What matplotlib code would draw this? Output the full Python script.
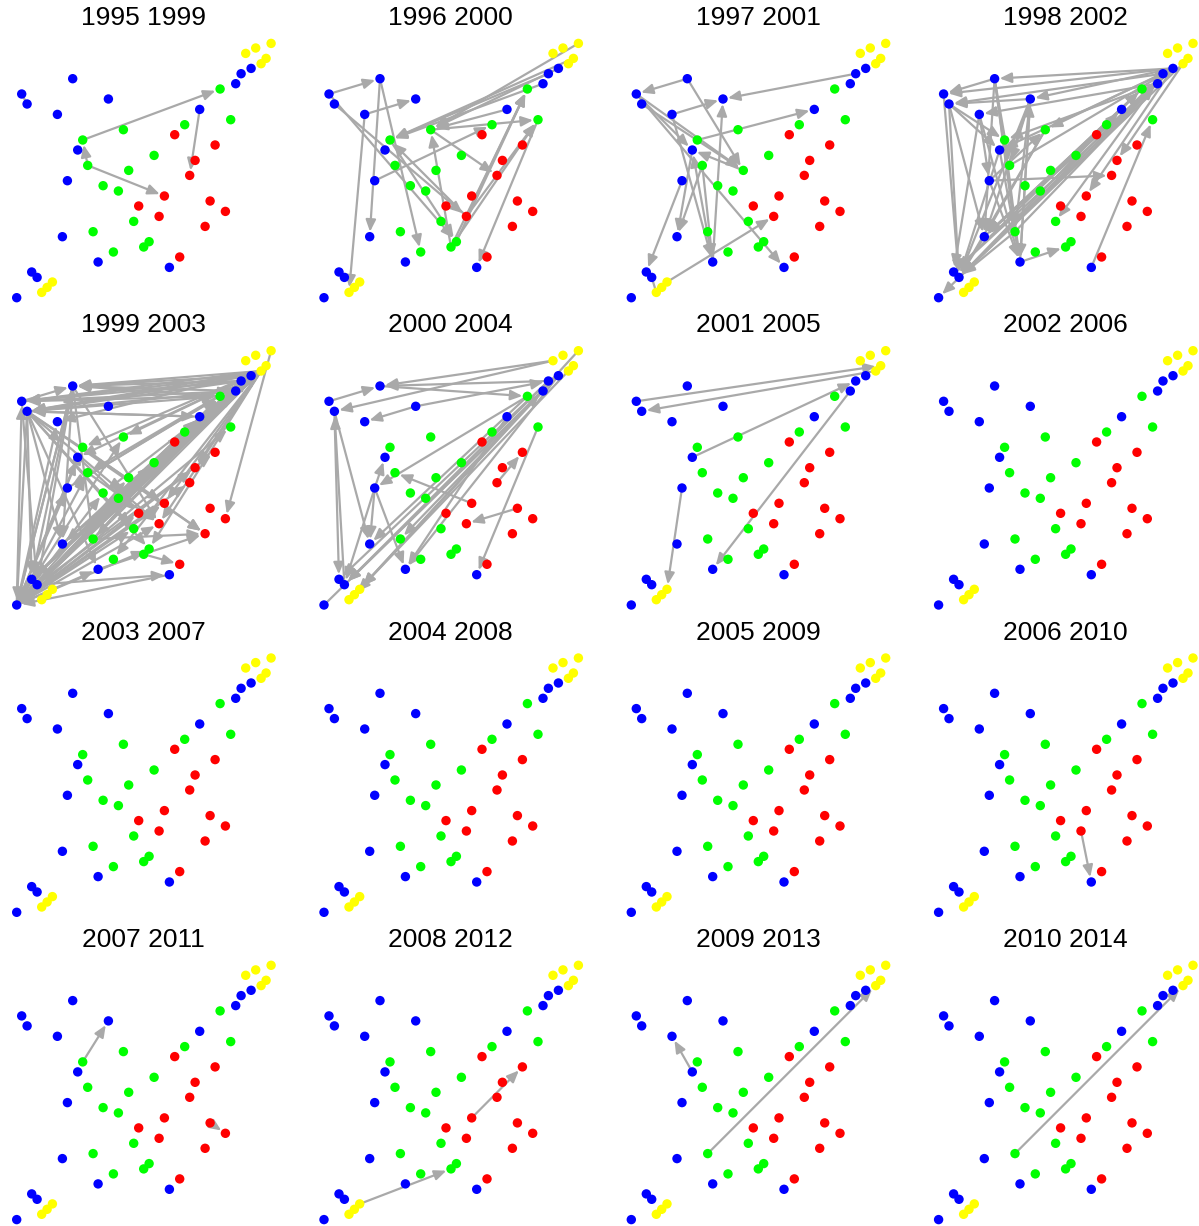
import matplotlib.pyplot as plt

# node layout, in pixels inside one panel (y grows downwards)
node_names = ["Y1", "Y2", "Y3", "Y4", "Y5", "Y6", "Y7", "Y8",
              "B1", "B2", "B3", "B4", "B5", "B6", "B7", "B8", "B9", "B10",
              "B11", "B12", "B13", "B14", "B15", "B16", "B17",
              "G1", "G2", "G3", "G4", "G5", "G6", "G7", "G8", "G9", "G10",
              "G11", "G12", "G13", "G14", "G15",
              "R1", "R2", "R3", "R4", "R5", "R6", "R7", "R8", "R9", "R10", "R11"]
node_x = [271.1, 255.7, 245.7, 266.1, 261.1, 52.4, 47.1, 41.7,
          251.1, 241.1, 235.7, 199.7, 72.7, 21.7, 27.1, 57.4, 108.4, 77.7,
          67.4, 62.4, 98.1, 169.4, 31.7, 37.1, 16.7,
          220.1, 230.7, 184.7, 123.4, 82.7, 154.1, 87.7, 128.7, 103.1, 118.4,
          133.7, 93.1, 149.1, 143.7, 113.4,
          174.7, 215.1, 195.1, 189.7, 164.4, 138.7, 210.1, 225.4, 159.1, 205.1, 179.7]
node_y = [43.4, 48.0, 53.4, 58.4, 63.7, 282.0, 287.4, 292.4,
          68.4, 73.7, 83.7, 109.4, 78.7, 94.0, 104.0, 114.4, 99.0, 150.0,
          180.7, 236.7, 262.0, 267.4, 272.0, 277.4, 297.7,
          89.0, 119.7, 124.7, 129.7, 140.0, 155.4, 165.4, 170.4, 185.7, 191.0,
          221.4, 231.7, 241.7, 247.0, 252.0,
          134.7, 145.0, 160.4, 175.4, 196.0, 206.0, 201.0, 211.4, 216.4, 226.4, 257.0]
group_colors = {"Y": "#FFFF00", "B": "#0000FF", "G": "#00FF00", "R": "#FF0000"}

titles = ["1995 1999", "1996 2000", "1997 2001", "1998 2002",
          "1999 2003", "2000 2004", "2001 2005", "2002 2006",
          "2003 2007", "2004 2008", "2005 2009", "2006 2010",
          "2007 2011", "2008 2012", "2009 2013", "2010 2014"]

edges_1995 = [("G5", "G1"), ("G7", "G5"), ("G7", "R5"), ("B4", "R4"), ("B6", "B7")]
edges_1996 = [("B6", "B5"), ("B5", "B12"), ("B5", "G15"), ("B8", "B9"), ("B8", "Y8"),
              ("B7", "R9"), ("B6", "G13"), ("R9", "G5"), ("G5", "G13"), ("G4", "R4"),
              ("G14", "G4"), ("B11", "G3"), ("G4", "G2"), ("Y1", "G4"), ("Y4", "G5"),
              ("B1", "G4"), ("B2", "G5"), ("B3", "G5"), ("B4", "G4"), ("G13", "G1"),
              ("R9", "G1"), ("G14", "G2"), ("R9", "G2"), ("G14", "G1"), ("G2", "B14")]
edges_1997 = [("B5", "B6"), ("B5", "G8"), ("B2", "B9"), ("B8", "B9"), ("G5", "B4"),
              ("B6", "B10"), ("B7", "G8"), ("B6", "G8"), ("B6", "B14"), ("B13", "B9"),
              ("B10", "B12"), ("G7", "B12"), ("B11", "B15"), ("B16", "Y8"), ("Y6", "R9"),
              ("B8", "B13"), ("G7", "B13"), ("G8", "B10"), ("B13", "B10")]
edges_1998 = [("B1", "B5"), ("B5", "B6"), ("B1", "B6"), ("B2", "B7"), ("B1", "B9"),
              ("B9", "B7"), ("B3", "B8"), ("B1", "B17"), ("Y5", "B16"), ("B2", "B16"),
              ("B3", "B15"), ("G1", "B12"), ("B4", "B12"), ("B1", "B12"), ("B7", "B10"),
              ("B7", "G5"), ("B7", "B12"), ("B7", "B16"), ("B6", "B16"), ("B5", "B12"),
              ("B5", "B13"), ("B5", "G12"), ("B5", "G7"), ("B9", "B12"), ("B9", "B13"),
              ("B9", "G12"), ("B9", "G7"), ("B9", "B16"), ("B8", "B13"), ("B8", "B15"),
              ("B8", "B11"), ("B10", "B13"), ("B10", "B16"), ("B11", "B13"), ("G5", "B13"),
              ("G4", "B16"), ("G4", "B12"), ("B13", "G14"), ("B14", "G2"), ("B11", "R4"),
              ("Y5", "R3"), ("B2", "G11"), ("B1", "R5"), ("B15", "G1"), ("B16", "B3"),
              ("B12", "G1"), ("B16", "B4"), ("G12", "B3"), ("G7", "B1"), ("B11", "G4"),
              ("B13", "B9"), ("G12", "B16"), ("B12", "B16"), ("B1", "G4"), ("B3", "G5"),
              ("B2", "B10")]
edges_1999 = [("Y5", "B5"), ("Y5", "B6"), ("Y5", "B7"), ("Y5", "B8"), ("Y5", "G5"),
              ("Y5", "G7"), ("Y5", "G4"), ("Y5", "B10"), ("Y5", "B11"), ("Y5", "B12"),
              ("Y5", "B15"), ("Y5", "B16"), ("Y5", "B17"), ("Y5", "G12"), ("Y5", "G15"),
              ("Y5", "G13"), ("Y5", "R9"), ("Y5", "R5"), ("Y5", "R3"), ("Y5", "G9"),
              ("Y5", "G10"), ("B1", "B5"), ("B1", "B6"), ("B2", "B7"), ("B3", "B17"),
              ("B1", "B16"), ("Y1", "R8"),
              ("B2", "B5"), ("B3", "B5"), ("G1", "B5"), ("B1", "B7"), ("B3", "B7"),
              ("G1", "B6"), ("B4", "B7"), ("B2", "B6"), ("B7", "G1"), ("B7", "B4"),
              ("B6", "B3"), ("B17", "B1"), ("B17", "Y5"), ("B16", "Y5"), ("B15", "B1"),
              ("B17", "B5"), ("B17", "B6"), ("B17", "B8"), ("B17", "B10"), ("B17", "B11"),
              ("B17", "G4"), ("B17", "G5"), ("B17", "G7"), ("B17", "G8"), ("B17", "G9"),
              ("B17", "G10"), ("B17", "B13"), ("B17", "R9"), ("B17", "R5"), ("B17", "R6"),
              ("B17", "G11"), ("B17", "G13"), ("B17", "G1"), ("B17", "B4"), ("B17", "B3"),
              ("B17", "B2"), ("B17", "G3"), ("B17", "G6"), ("B14", "B17"),
              ("B17", "R3"), ("B17", "R4"), ("B17", "G2"), ("B16", "R2"), ("B15", "B4"),
              ("B12", "B3"), ("G12", "G1"), ("B16", "G6"), ("B15", "G3"),
              ("B7", "R10"), ("B7", "R5"), ("B7", "G13"), ("B7", "B17"), ("B7", "B15"),
              ("B7", "B13"), ("B7", "G11"), ("B7", "R9"), ("B7", "B12"), ("B6", "B16"),
              ("B5", "B17"), ("B5", "B15"), ("B5", "R9"), ("B5", "B12"), ("B5", "G12"),
              ("B5", "B16"), ("G14", "R11"), ("B13", "R10"), ("G12", "R10"), ("B16", "B14"),
              ("G5", "R10"), ("B6", "B5"), ("B16", "G1"), ("B15", "B3"), ("G12", "B1"),
              ("B12", "B2"), ("B11", "G1"), ("B10", "R6"), ("G7", "R9")]
edges_2000 = [("B6", "B5"), ("Y3", "B5"), ("B2", "B5"), ("B5", "G1"), ("Y3", "B7"),
              ("B9", "B8"), ("B9", "B2"), ("B16", "B7"), ("B7", "B12"), ("B7", "B15"),
              ("B11", "B10"), ("B11", "B12"), ("B11", "B13"), ("B11", "B16"), ("G1", "B11"),
              ("R5", "G7"), ("R7", "R9"), ("R4", "R2"), ("G2", "B14"), ("Y1", "Y6"),
              ("B1", "B16"), ("B2", "B15"), ("B3", "G12"), ("G1", "B12"), ("B1", "B13"),
              ("Y5", "Y7"), ("B17", "B3"), ("B4", "B13"), ("B3", "Y6"), ("B2", "B16")]
edges_2001 = [("B6", "Y4"), ("Y5", "B7"), ("B10", "B2"), ("B3", "B13"), ("B11", "Y6")]
edges_2002 = []
edges_2003 = []
edges_2004 = []
edges_2005 = []
edges_2006 = [("R9", "B14")]
edges_2007 = [("G5", "B9"), ("R7", "R8")]
edges_2008 = [("Y6", "G14"), ("R5", "R2")]
edges_2009 = [("B10", "B8"), ("G12", "Y5")]
edges_2010 = [("G12", "Y5")]

panel_edges = [edges_1995, edges_1996, edges_1997, edges_1998,
               edges_1999, edges_2000, edges_2001, edges_2002,
               edges_2003, edges_2004, edges_2005, edges_2006,
               edges_2007, edges_2008, edges_2009, edges_2010]

pos = {n: (x, y) for n, x, y in zip(node_names, node_x, node_y)}
colors = [group_colors[n[0]] for n in node_names]

W, H = 1199, 1226
cell = 307.3

fig = plt.figure(figsize=(W / 100, H / 100), dpi=100)
plt.rcParams['font.family'] = ['Liberation Sans', 'DejaVu Sans']

for i, (titulo, edges) in enumerate(zip(titles, panel_edges)):
    fila, col = divmod(i, 4)
    ax = fig.add_axes([col * cell / W, 1 - (fila + 1) * cell / H, cell / W, cell / H])
    ax.set_xlim(0, cell)
    ax.set_ylim(cell, 0)
    ax.axis('off')
    for a, b in edges:
        (x0, y0), (x1, y1) = pos[a], pos[b]
        dist = ((x1 - x0) ** 2 + (y1 - y0) ** 2) ** 0.5
        # edges between touching nodes are too short for a head
        estilo = "-|>,head_length=0.7,head_width=0.3" if dist > 16 else "-"
        ax.annotate("", xy=pos[b], xytext=pos[a],
                    arrowprops=dict(arrowstyle=estilo, color="#A9A9A9", lw=1.6,
                                    shrinkA=0, shrinkB=3.6 if dist > 16 else 0,
                                    mutation_scale=10),
                    zorder=1)
    ax.scatter(node_x, node_y, s=46, c=colors, edgecolors='none', zorder=3)
    ax.text(143.5, 18, titulo, ha='center', va='center', fontsize=19)

fig.savefig("out.png", dpi=100)
